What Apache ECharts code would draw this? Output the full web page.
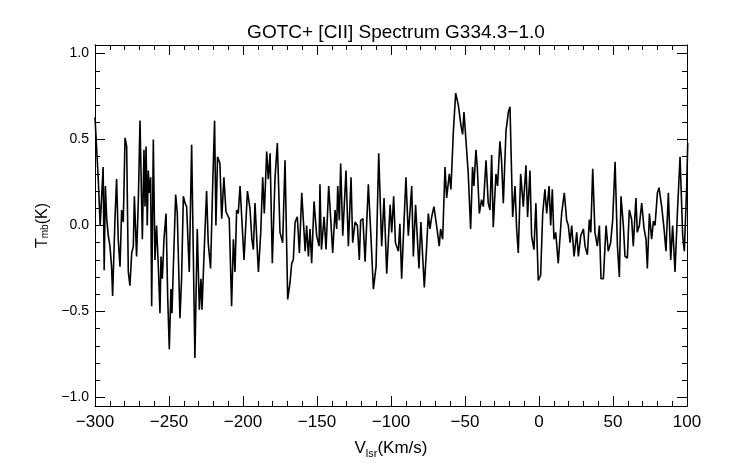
<!DOCTYPE html>
<html><head><meta charset="utf-8">
<script src="https://cdn.jsdelivr.net/npm/echarts@6/dist/echarts.min.js"></script>
<style>html,body{margin:0;background:#fff}#c{width:742px;height:464px}</style>
</head><body><div id="c"></div>
<script>
const velocity = [-300,-297.8,-296.5,-294.5,-293.8,-293,-292.1,-291,-289.9,-288.8,-288.1,-286.5,-285.4,-284.3,-283.1,-282,-280.9,-279.7,-278.6,-277.5,-276.4,-275.2,-274.1,-273.4,-271.9,-270.7,-269.6,-268,-266.9,-266.2,-265.5,-264.7,-264,-263.3,-262.4,-261.7,-260.6,-259.5,-258.4,-257.2,-256.1,-255.4,-254.5,-253.4,-252,-250.9,-249.8,-248.7,-248,-247.1,-245.5,-244.4,-242.6,-241.5,-240.3,-239.2,-238.1,-236.3,-234.7,-232.5,-230.9,-229.5,-228.4,-227.7,-226.1,-224.6,-223.5,-221.9,-220.5,-219.2,-218.3,-217.2,-215.6,-214.4,-212.9,-211.5,-209.3,-207.7,-206.5,-205.4,-204.3,-203.2,
-202,-199.3,-197,-195.3,-194,-193,-191.9,-189.6,-188,-186.7,-185.6,-184,-182.9,-181.7,-180.2,-178.4,-176.8,-175,-173.2,-171.6,-169.8,-168.2,-167.1,-166,-164.8,-163.3,-161.9,-160.3,-158,-157,-155.8,-154.7,-153.6,-152,-150.2,-148.6,-148,-147,-145.2,-143.9,-142.1,-140.7,-139.4,-137.8,-136.7,-136,-134.9,-134,-132.6,-130.4,-128.8,-127,-125.9,-124.3,-122.7,-121.4,-120.5,-119,-117.5,-115.3,-113.7,-111.9,-110.1,-108.3,-106.3,-104.7,-102.9,-100.6,
-99.5,-98.2,-97,-95,-94,-92.8,-91.6,-89.9,-88.3,-86,-84.9,-83.4,-81.1,-79.8,-78.6,-77.5,-75.9,-74.8,-73.7,-72.5,-71,-69.2,-67.4,-66.5,-65.1,-63.5,-62.4,-60.6,-59.5,-57.9,-56.3,-54.5,-52.7,-51.6,-50.7,-48.9,-47.8,-46.2,-44.9,-44,-42.6,-41.7,-40.3,-38.8,-37.6,-35.8,-34.3,-33.1,-32,-30.9,-29.1,-28,-26.4,-25.3,-24.1,-22.3,-20.7,-19.6,-17.8,-16.2,-15.1,-14,-12.4,-10.6,-8.8,-7.7,-6.1,-5,-3.4,-2.1,-0.5,1.1,2.5,4,5.2,6.8,7.9,9,10.1,11.3,13,15.3,17.1,18.7,19.8,21,22.1,23.7,25.5,26.6,28.2,30,31.1,32.7,34,35,36.3,37.8,39.4,40.8,41.9,43.5,45.3,46.8,48.4,49.8,51.4,53,54.3,55.4,57,58.1,59.7,61,62.6,63.7,65.5,66.4,67.8,69.4,71,72.3,73.2,74.6,76.1,77.3,78.4,80,81.1,82.9,84.5,85.8,87.4,89,90.3,91.9,93.5,95.3,97.1,98.2,99.8,100.5];
const tmb = [.63,.27,0,.34,-.26,.23,.04,-.06,-.12,-.24,-.41,.04,.27,-.08,-.24,.09,.02,.51,.46,-.27,-.35,-.16,-.12,.17,-.18,.15,.61,-.08,.44,.11,.46,0,.32,.19,.28,-.47,.50,-.20,0,-.24,-.51,-.18,-.31,-.08,.07,-.41,-.72,-.37,-.51,-.25,.18,.07,-.54,-.31,.17,.13,.11,-.27,.47,-.77,-.02,-.49,-.31,-.49,-.12,.20,-.10,-.25,.23,.61,0,.40,.36,.04,.28,.08,.04,-.47,-.08,-.27,.09,.07,
.23,-.20,.20,.10,-.08,-.14,.13,-.27,-.04,.28,.07,.43,.27,.42,-.22,.27,.48,-.04,-.10,.38,-.43,-.33,-.22,-.20,.02,.05,-.16,.19,-.15,0,-.18,-.02,-.22,.14,-.06,-.12,.24,-.14,.05,-.14,.23,.035,-.16,.09,-.02,.23,.03,.36,-.06,.32,-.12,.28,-.10,.02,0,-.20,.03,.04,-.21,.24,-.04,-.37,-.24,.42,-.12,.16,-.28,.12,
-.04,.17,-.10,-.15,.01,-.31,-.06,.28,-.06,.23,-.18,.12,-.25,.02,-.18,-.36,-.12,.07,-.02,.05,.11,0,-.12,-.02,-.08,.34,.16,.30,.21,.54,.77,.70,.58,.53,.66,.44,.30,-.02,.34,.23,.44,.34,.07,.15,.11,.38,.13,.09,.41,-.01,.30,.23,.49,.38,.13,.55,.66,.69,.05,.23,-.02,-.16,.30,.11,.35,.05,.32,-.06,-.14,.13,-.32,-.29,.07,.21,.07,.23,0,.21,-.08,-.04,-.22,.07,.19,.03,0,-.10,0,-.18,-.04,-.18,-.06,-.02,-.12,-.17,.035,-.04,.33,-.04,-.12,0,-.31,-.31,0,-.15,-.10,.035,.37,-.12,-.30,.17,0,-.18,-.19,.09,.035,-.12,.16,-.04,0,.13,-.02,-.08,-.25,.07,-.08,.025,0,.19,.22,.11,-.02,-.15,.19,-.20,0,-.27,.07,.40,-.06,-.15,.23,.48];
const yMajor = [-1,-0.5,0,0.5,1];
const yMinor = [-1,-0.9,-0.8,-0.7,-0.6,-0.5,-0.4,-0.3,-0.2,-0.1,0,0.1,0.2,0.3,0.4,0.5,0.6,0.7,0.8,0.9,1];
const yLabels = ['\u22121.0','\u22120.5','0.0','0.5','1.0'];

function yAx(pos, ticks, len, labels){
  return {type:'value', position:pos, min:-1.05, max:1.05,
    axisLine:{show:true,onZero:false,lineStyle:{color:'#000',width:1}}, splitLine:{show:false},
    axisTick:{show:true, inside:true, length:len, customValues:ticks, lineStyle:{color:'#000'}},
    axisLabel:{show:labels, customValues:yMajor, color:'#000', fontSize:14, fontFamily:'Liberation Sans', margin:6,
      formatter:v=>yLabels[yMajor.findIndex(m=>Math.abs(m-v)<1e-6)] },
    name: labels ? '{a|T}{s|mb}{a|(K)}' : '', nameLocation:'middle', nameGap:40, nameRotate:90,
    nameTextStyle:{rich:{a:{fontSize:16,fontFamily:'Liberation Sans',color:'#000'},s:{fontSize:10,fontFamily:'Liberation Sans',color:'#000',padding:[6,0,0,0]}}}
  };
}
function xAx(pos, labels){
  return {type:'value', position:pos, min:-300, max:100, interval:50,
    axisLine:{show:true,onZero:false,lineStyle:{color:'#000',width:1}}, splitLine:{show:false},
    axisTick:{show:true, inside:true, length:10, lineStyle:{color:'#000'}},
    minorTick:{show:true, splitNumber:5, length:5, lineStyle:{color:'#000'}},
    axisLabel:{show:labels, color:'#000', fontSize:17, fontFamily:'Liberation Sans', margin:8,
      formatter:v=>v<0?'\u2212'+(-v):String(v)},
    name: labels ? '{a|V}{s|lsr}{a|(Km/s)}' : '', nameLocation:'middle', nameGap:32,
    nameTextStyle:{rich:{a:{fontSize:17,fontFamily:'Liberation Sans',color:'#000'},s:{fontSize:11,fontFamily:'Liberation Sans',color:'#000',padding:[10,0,0,0]}}}
  };
}
const chart = echarts.init(document.getElementById('c'));
chart.setOption({
  animation:false,
  title:{text:'GOTC+ [CII] Spectrum G334.3\u22121.0', left:391, textAlign:'center', top:18,
    textStyle:{fontSize:19,fontWeight:'normal',fontFamily:'Liberation Sans',color:'#000'}},
  grid:{left:95,right:55,top:45,bottom:57},
  xAxis:[xAx('bottom',true), xAx('top',false)],
  yAxis:[yAx('left',yMajor,10,true), yAx('left',yMinor,5,false), yAx('right',yMajor,10,false), yAx('right',yMinor,5,false)],
  series:[{type:'line', data:velocity.map((v,i)=>[v,tmb[i]]), showSymbol:false, symbol:'none',
    lineStyle:{color:'#000',width:1.6}, xAxisIndex:0, yAxisIndex:0}]
});
</script></body></html>
